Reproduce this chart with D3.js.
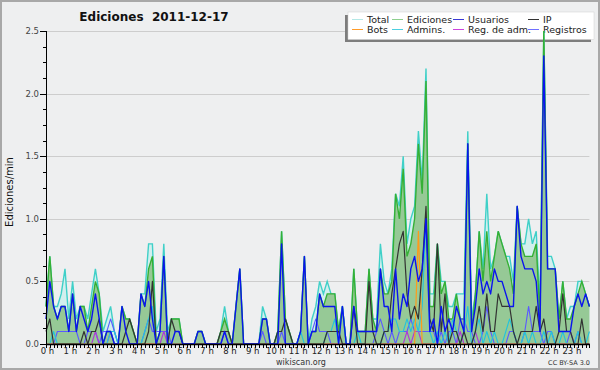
<!DOCTYPE html>
<html>
<head>
<meta charset="utf-8">
<script src="https://cdn.jsdelivr.net/npm/d3@7/dist/d3.min.js"></script>
<style>
  body { margin: 0; background: #fff; }
  svg { display: block; font-family: "DejaVu Sans", Verdana, sans-serif; }
</style>
</head>
<body>
<svg id="chart" width="600" height="370"></svg>
<script>
// one value every 10 minutes, 144 per day (edits / min)
const hourLabels = d3.range(24).map(h => h + ' h');
const yTickLabels = ['0.0', '0.5', '1.0', '1.5', '2.0', '2.5'];

const total = [
  .3,.7,.3,.3,.4,.6, .2,.5,.2,.3,.3,.2, .4,.6,.4,.1,.2,.3, .1,0,.3,.2,.2,.1,
  0,.4,.4,.8,.8,.1, .2,.8,.1,.2,.2,.2, 0,0,0,0,.1,.1, 0,0,0,0,.1,.3,
  .1,0,.3,.6,0,0, 0,0,0,.3,.2,0, 0,.1,.9,.2,.1,0, 0,.1,.7,0,.2,.3,
  .5,.4,.5,.4,.4,.1, .3,0,0,.6,.1,.1, .1,.6,.2,.2,.8,.5, .4,.6,1.2,1.1,1.5,.8,
  1.0,1.1,1.7,1.3,2.2,.4, .4,.8,.5,.5,.3,.3, .4,.4,.4,1.7,.2,.4, .9,.6,1.2,.6,.7,.9,
  .8,.7,.7,.5,1.1,.8, .8,1.0,.8,.9,.3,2.5, .7,.7,.6,.2,.5,.2, .3,.3,.5,.5,.4,.3
];
const ediciones = [
  .3,.7,.3,.2,.3,.3, .1,.4,.1,.3,.3,.1, .3,.5,.4,0,.1,.1, 0,0,.3,.2,.2,.1,
  0,.4,.3,.6,.7,0, .1,.7,0,.2,.2,.2, 0,0,0,0,.1,.1, 0,0,0,0,.1,.2,
  .1,0,.3,.6,0,0, 0,0,0,.2,.2,0, 0,.1,.9,.2,.1,0, 0,.1,.7,0,.1,.1,
  .4,.3,.4,.4,.4,.1, .3,0,0,.6,.1,.1, .1,.6,.2,.1,.6,.4, .4,.5,1.2,1.0,1.4,.7,
  .8,1.0,1.6,1.2,2.1,.3, .3,.8,.4,.5,.2,.2, .4,.2,.2,1.6,.1,.4, .9,.5,.9,.5,.7,.9,
  .8,.7,.6,.4,1.1,.8, .7,.7,.7,.8,.2,2.5, .6,.6,.6,.2,.5,.2, .2,.3,.4,.5,.4,.3
];
const usuarios = [
  .2,.5,.3,.2,.3,.3, .1,.4,.1,.3,.2,.1, .2,.4,.2,0,.1,.1, 0,0,.3,.1,0,0,
  0,.4,.3,.5,.2,0, .1,.7,0,0,.1,.1, 0,0,0,0,.1,.1, 0,0,0,0,0,.1,
  0,0,.3,.6,0,0, 0,0,0,.2,.2,0, 0,0,.8,0,0,0, 0,.1,.7,0,.1,.1,
  .4,.3,.3,.3,.3,0, .3,0,0,.3,.1,.1, .1,.1,.1,.1,.6,.3, .3,.1,.6,.2,.4,.3,
  .6,.7,.5,.6,1.0,.1, .2,0,.3,.1,.2,.1, .3,.2,.1,1.6,.1,.3, .6,.4,.5,.4,.6,.5,
  .5,.4,.3,.3,1.1,.7, .6,.6,.6,.5,.1,2.3, .6,.6,.6,.1,.1,.1, .1,.3,.4,.3,.4,.3
];
const ip = [
  .1,.2,0,0,0,0, 0,0,0,0,.1,0, .1,.1,.2,0,0,0, 0,0,0,.1,.2,.1,
  0,0,0,.1,.5,0, 0,0,0,.2,.1,.1, 0,0,0,0,0,0, 0,0,0,0,.1,.1,
  .1,0,0,0,0,0, 0,0,0,0,0,0, 0,.1,.1,.2,.1,0, 0,0,0,0,0,0,
  0,0,.1,.1,.1,.1, 0,0,0,.3,0,0, 0,.5,.1,0,0,.1, .1,.4,.6,.8,.9,.4,
  .2,.3,.2,.6,1.1,.2, .1,.8,.1,.4,0,.1, .1,0,.1,0,0,.1, .3,.1,.4,.1,.1,.4,
  .3,.3,.3,.1,0,.1, .1,.1,.1,.3,.1,.2, 0,0,0,.1,.4,.1, .1,0,0,.2,0,0
];
const bots = [
  0,0,0,0,0,0, 0,0,0,0,0,0, 0,0,0,0,0,0, 0,0,0,0,0,0,
  0,0,0,0,0,0, 0,0,0,0,0,0, 0,0,0,0,0,0, 0,0,0,0,0,0,
  0,0,0,0,0,0, 0,0,0,0,0,0, 0,0,0,0,0,0, 0,0,0,0,0,0,
  0,0,0,0,0,0, 0,0,0,0,0,0, 0,0,0,0,0,0, 0,0,0,0,0,0,
  0,0,.9,0,0,0, 0,0,0,0,0,0, 0,0,0,0,0,0, 0,0,0,0,0,0,
  0,0,0,0,0,0, 0,0,0,0,0,0, 0,0,0,0,0,0, 0,0,0,0,0,0
];
const admins = [
  0,0,.1,0,0,0, 0,0,0,0,0,0, 0,0,0,0,0,.1, .1,0,0,0,0,0,
  0,0,.1,.2,.3,0, 0,0,0,0,0,0, 0,0,0,0,0,0, 0,0,0,0,0,0,
  0,0,0,0,0,0, 0,0,0,0,0,0, 0,0,0,0,0,0, 0,.1,0,0,0,0,
  0,0,.1,.1,.2,0, .3,0,0,0,.1,0, 0,0,0,0,0,.1, .1,.2,.2,.1,.1,.2,
  .1,.2,.1,.3,1.0,.1, 0,.1,0,.1,0,.2, .1,0,.1,.3,0,.1, .2,0,.1,0,.1,0,
  0,.1,.2,.1,0,0, .1,0,.1,0,0,.1, 0,.1,0,0,.1,0, 0,0,.1,0,0,.1
];
const regAdm = [
  0,0,0,0,0,0, 0,0,0,0,0,0, 0,.1,0,0,0,.1, 0,0,0,0,0,0,
  0,0,0,0,0,0, 0,.1,0,0,0,0, 0,0,0,0,0,0, 0,0,0,0,0,0,
  0,0,0,0,0,0, 0,0,0,0,0,0, 0,0,0,0,0,0, 0,0,0,0,0,0,
  0,0,0,0,0,0, 0,0,0,0,0,0, 0,0,0,0,0,0, 0,0,0,0,0,.1,
  0,.1,.1,0,0,0, 0,0,0,0,0,0, 0,.1,0,0,0,.1, 0,0,0,0,0,0,
  0,0,0,0,0,0, 0,0,0,0,0,0, 0,0,0,0,0,0, 0,0,0,0,0,0
];
const registros = [
  0,0,0,.1,.1,.1, .1,.1,.1,0,0,.1, .1,.1,0,.1,.1,.2, .1,0,0,0,0,0,
  0,0,.1,.2,.1,.1, .1,.1,.1,0,0,0, 0,0,0,0,0,0, 0,0,0,0,0,.1,
  0,0,0,0,0,0, 0,0,0,.1,0,0, 0,0,.1,0,0,0, 0,0,0,0,.1,.2,
  .1,.1,.1,0,0,0, 0,0,0,0,0,0, 0,0,0,.1,.2,.1, 0,.1,0,.1,.1,.1,
  .2,.1,.1,.1,.1,.1, .1,0,.1,0,.1,.1, 0,.2,.2,.1,.1,0, 0,.1,.3,.1,0,0,
  0,0,.1,.1,0,0, .1,.3,.1,.1,.1,0, .1,.1,0,0,0,0, .1,0,.1,0,0,0
];

const W = 600, H = 370;
const margin = { left: 46, right: 10.6, top: 31, bottom: 26 };
const svg = d3.select('#chart');

const x = d3.scaleLinear().domain([0, 143]).range([margin.left, W - margin.right]);
const y = d3.scaleLinear().domain([0, 2.5]).range([H - margin.bottom, margin.top]);

// page background + frame
svg.append('rect')
  .attr('x', 1).attr('y', 1).attr('width', W - 2).attr('height', H - 2)
  .attr('fill', '#eeeff0').attr('stroke', '#a8a8a8').attr('stroke-width', 2);

// horizontal grid
svg.append('g')
  .selectAll('line')
  .data(yTickLabels.slice(1))
  .enter()
  .append('line')
  .attr('x1', x(0)).attr('x2', x(143))
  .attr('y1', d => Math.round(y(+d)) + 0.5).attr('y2', d => Math.round(y(+d)) + 0.5)
  .attr('stroke', '#cdcdcd');

// legend (drawn under the data, the 21h50 peak crosses it)
const legendItems = [
  { name: 'Total', color: '#b4e8e6' },
  { name: 'Ediciones', color: '#8ed08e' },
  { name: 'Usuarios', color: '#3a3ad6' },
  { name: 'IP', color: '#333333' },
  { name: 'Bots', color: '#ff9c2a' },
  { name: 'Admins.', color: '#4ccfe0' },
  { name: 'Reg. de adm.', color: '#cc44dd' },
  { name: 'Registros', color: '#7070ff' }
];
const legendCols = [352, 392, 453, 528];
const legend = svg.append('g');
legend.append('rect')
  .attr('x', 345).attr('y', 15).attr('width', 246).attr('height', 27)
  .attr('fill', '#7d7d7d');
legend.append('rect')
  .attr('x', 348).attr('y', 12).attr('width', 246).attr('height', 27.5)
  .attr('fill', '#fff').attr('stroke', '#d0d0d0').attr('stroke-width', 0.5);
legendItems.forEach((d, i) => {
  const cx = legendCols[i % 4];
  const cy = i < 4 ? 19 : 29;
  legend.append('line')
    .attr('x1', cx).attr('x2', cx + 11)
    .attr('y1', cy + 0.5).attr('y2', cy + 0.5)
    .attr('stroke', d.color).attr('stroke-width', 1);
  legend.append('text')
    .attr('x', cx + 15).attr('y', cy + 3.5)
    .attr('font-size', 9.5).attr('fill', '#222')
    .text(d.name);
});

// areas
const area = d3.area()
  .x((d, i) => x(i))
  .y0(y(0))
  .y1(d => y(d));
const line = d3.line()
  .x((d, i) => x(i))
  .y(d => y(d));

svg.append('path').datum(total)
  .attr('d', area).attr('fill', '#d2efee');
svg.append('path').datum(total)
  .attr('d', line).attr('fill', 'none')
  .attr('stroke', '#3fd0c8').attr('stroke-width', 1.4);
svg.append('path').datum(ediciones)
  .attr('d', area).attr('fill', '#96c996');
svg.append('path').datum(ediciones)
  .attr('d', line).attr('fill', 'none')
  .attr('stroke', '#35b035').attr('stroke-width', 1.4);

const lineSeries = [
  { data: registros, color: '#5a5aff', width: 1.1 },
  { data: regAdm, color: '#b038d8', width: 1.1 },
  { data: admins, color: '#22c4dc', width: 1.1 },
  { data: bots, color: '#ff9a1a', width: 1.2 },
  { data: ip, color: '#333333', width: 1.2 },
  { data: usuarios, color: '#0a14ee', width: 1.4 }
];
lineSeries.forEach(s => {
  svg.append('path').datum(s.data)
    .attr('d', line).attr('fill', 'none')
    .attr('stroke', s.color).attr('stroke-width', s.width)
    .attr('stroke-linejoin', 'round');
});

// y axis
const yAxis = svg.append('g');
yAxis.append('line')
  .attr('x1', margin.left + 0.5).attr('x2', margin.left + 0.5)
  .attr('y1', y(2.5)).attr('y2', y(0))
  .attr('stroke', '#000');
d3.range(0, 21).forEach(k => {
  const v = k * 0.125;
  const major = k % 4 === 0;
  yAxis.append('line')
    .attr('x1', margin.left - (major ? 6 : 3)).attr('x2', margin.left)
    .attr('y1', Math.round(y(v)) + 0.5).attr('y2', Math.round(y(v)) + 0.5)
    .attr('stroke', '#000');
});
yAxis.selectAll('text')
  .data(yTickLabels)
  .enter()
  .append('text')
  .attr('x', 39).attr('y', d => y(+d) + 3)
  .attr('text-anchor', 'end')
  .attr('font-size', 8.5).attr('fill', '#444')
  .text(d => d);

// x axis
const xAxis = svg.append('g');
xAxis.append('line')
  .attr('x1', x(0)).attr('x2', x(143))
  .attr('y1', y(0) + 0.5).attr('y2', y(0) + 0.5)
  .attr('stroke', '#000').attr('stroke-width', 1.5);
d3.range(144).forEach(i => {
  xAxis.append('line')
    .attr('x1', Math.round(x(i)) + 0.5).attr('x2', Math.round(x(i)) + 0.5)
    .attr('y1', y(0)).attr('y2', y(0) + 4)
    .attr('stroke', '#000');
});
xAxis.selectAll('text')
  .data(hourLabels)
  .enter()
  .append('text')
  .attr('x', (d, h) => x(h * 6) + 1.5).attr('y', 353.5)
  .attr('text-anchor', 'middle')
  .attr('font-size', 8.5).attr('fill', '#222')
  .text(d => d);

// titles
svg.append('text')
  .attr('x', 154).attr('y', 21)
  .attr('text-anchor', 'middle')
  .attr('font-size', 12).attr('font-weight', 'bold').attr('fill', '#111')
  .attr('xml:space', 'preserve')
  .text('Ediciones  2011-12-17');
svg.append('text')
  .attr('transform', 'translate(13,192) rotate(-90)')
  .attr('text-anchor', 'middle')
  .attr('font-size', 10).attr('fill', '#111')
  .text('Ediciones/min');
svg.append('text')
  .attr('x', 301).attr('y', 364.5)
  .attr('text-anchor', 'middle')
  .attr('font-size', 8).attr('fill', '#333')
  .text('wikiscan.org');
svg.append('text')
  .attr('x', 590).attr('y', 364.5)
  .attr('text-anchor', 'end')
  .attr('font-size', 6.5).attr('fill', '#333')
  .text('CC BY-SA  3.0');
</script>
</body>
</html>
